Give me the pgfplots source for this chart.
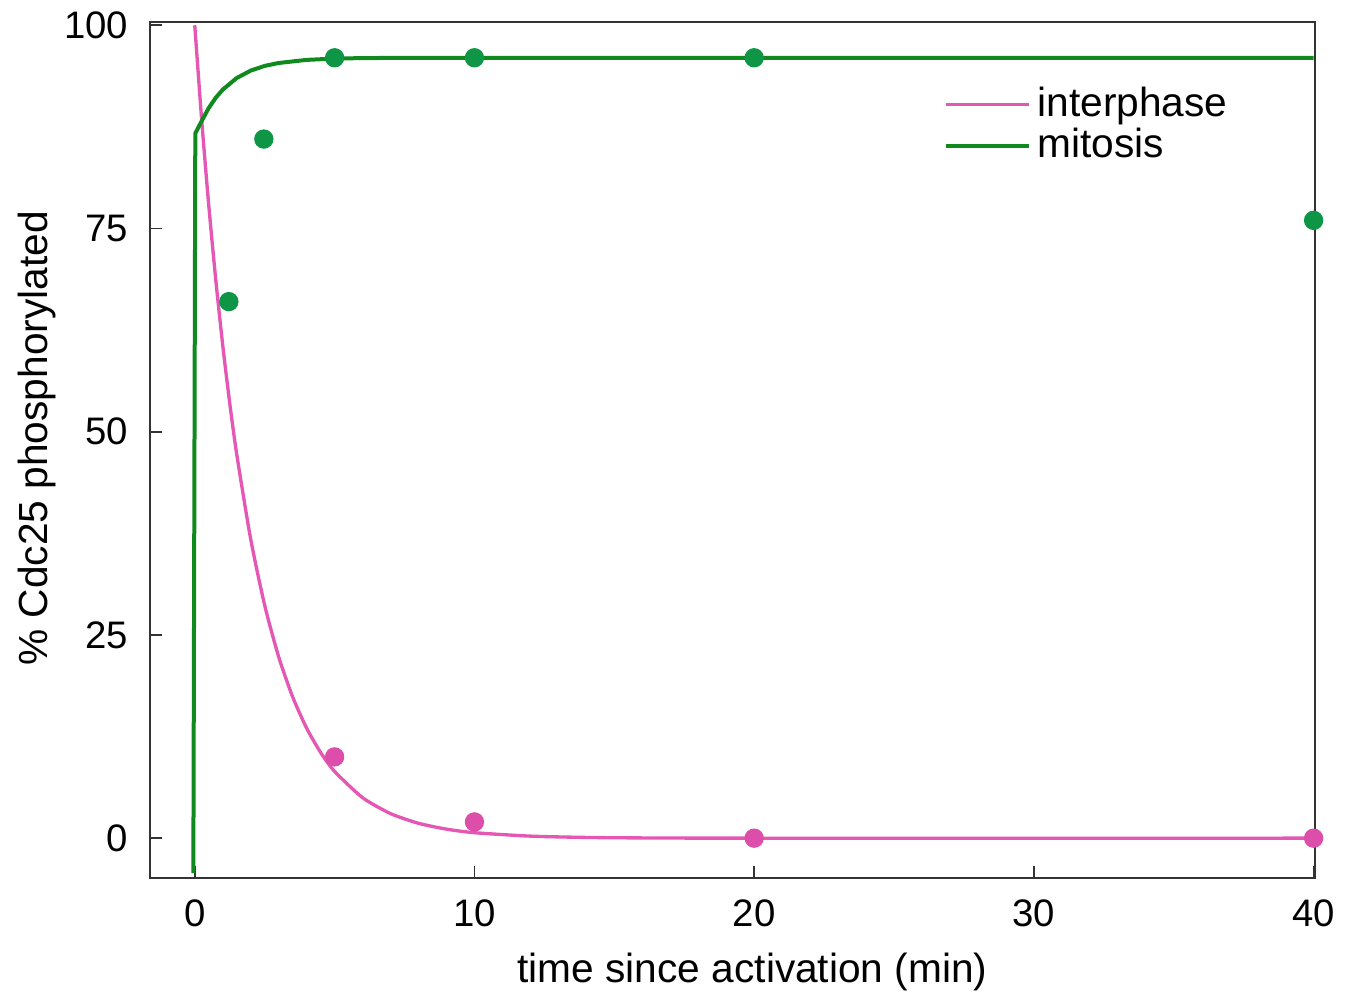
\documentclass[border=0pt]{standalone}
\usepackage{fontspec}
\setmainfont{Liberation Sans}
\usepackage{pgfplots}
\pgfplotsset{compat=1.18}
\definecolor{pinkline}{RGB}{228,88,180}
\definecolor{pinkdot}{RGB}{220,78,170}
\definecolor{greenline}{RGB}{16,138,30}
\definecolor{greendot}{RGB}{14,150,70}
\begin{document}
\begin{tikzpicture}
\begin{axis}[
  name=ax,
  scale only axis,
  width=349.5pt, height=256.8pt,
  xmin=-1.6, xmax=40.05, ymin=-4.9, ymax=100.4,
  xtick={0,10,20,30,40}, ytick={0,25,50,75,100},
  tick align=inside, tick pos=left,
  major tick length=3.5pt,
  axis line style={draw=black!80, line width=0.6pt},
  every tick/.style={draw=black!80, line width=0.5pt},
  /pgf/number format/assume math mode=true,
  tick label style={font=\fontsize{11.5}{13}\selectfont},
  label style={font=\fontsize{12.2}{14}\selectfont},
  xlabel={time since activation (min)},
  ylabel={\% Cdc25 phosphorylated},
  xticklabel style={yshift=-3pt},
  yticklabel style={xshift=-3pt},
  xlabel style={yshift=-1pt, xshift=6pt},
  ylabel style={yshift=-4.5pt, xshift=3.5pt},
  legend style={at={(0.672,0.94)}, anchor=north west, draw=none, fill=none,
    font=\fontsize{12.2}{14}\selectfont, row sep=-2pt,
    /tikz/every even column/.append style={column sep=4pt}},
  legend image code/.code={\draw[#1] (0pt,0pt) -- (25pt,0pt);},
  legend cell align=left,
]
\addplot[pinkline, line width=1pt, smooth, tension=0.4] coordinates {
 (0,100) (0.25,88.25) (0.5,77.88) (0.75,68.73) (1,60.65) (1.25,53.53) (1.5,47.24)
 (2,36.79) (2.5,28.65) (3,22.31) (3.5,17.38) (4,13.53) (4.5,10.54) (5,8.21)
 (6,4.98) (7,3.02) (8,1.83) (9,1.11) (10,0.67) (12,0.25) (14,0.09) (16,0.03)
 (20,0) (40,0)};
\addlegendentry{interphase}
\addplot[greenline, line width=1.2pt] coordinates {
 (-0.05,-4.3) (0.02,86.7) (0.25,88.24) (0.5,89.82) (0.75,91.08) (1,92.08)
 (1.5,93.51) (2,94.42) (2.5,95.0) (3,95.36) (4,95.74) (5,95.9) (6,95.96)
 (8,96) (40,96)};
\addlegendentry{mitosis}
\addplot[only marks, mark=*, mark size=2.7pt, color=pinkdot,
  mark options={draw=pinkdot, fill=pinkdot}, forget plot]
 coordinates {(5,10) (10,2) (20,0) (40,0)};
\addplot[only marks, mark=*, mark size=2.7pt, color=greendot,
  mark options={draw=greendot, fill=greendot}, forget plot]
 coordinates {(1.22,66) (2.47,86) (5,96) (10,96) (20,96) (40,76)};
\end{axis}
\pgfresetboundingbox
\path ([shift={(-45pt,-34.2pt)}]ax.south west) rectangle ([shift={(10.8pt,6.6pt)}]ax.north east);
\end{tikzpicture}
\end{document}
